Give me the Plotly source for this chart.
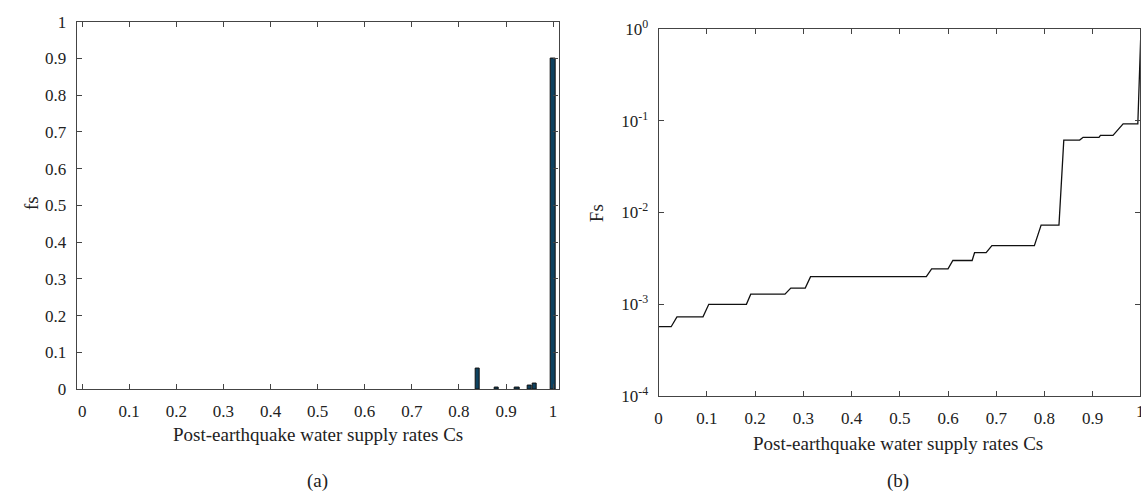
import plotly.graph_objects as go

# ---- data ----
bar_cs = [0.84, 0.88, 0.924, 0.95, 0.961, 1.0]
bar_fs = [0.055, 0.005, 0.004, 0.009, 0.015, 0.9]

cdf_cs = [0.0, 0.026, 0.038, 0.092, 0.104, 0.182, 0.191, 0.262, 0.274, 0.304, 0.315,
          0.555, 0.566, 0.600, 0.610, 0.650, 0.655, 0.679, 0.691, 0.779, 0.793, 0.830,
          0.840, 0.873, 0.880, 0.913, 0.916, 0.942, 0.963, 0.9935, 1.0]
cdf_fs = [5.7e-4, 5.7e-4, 7.3e-4, 7.3e-4, 1.0e-3, 1.0e-3, 1.29e-3, 1.29e-3, 1.5e-3, 1.5e-3, 2.0e-3,
          2.0e-3, 2.43e-3, 2.43e-3, 3.0e-3, 3.0e-3, 3.65e-3, 3.65e-3, 4.35e-3, 4.35e-3, 7.3e-3, 7.3e-3,
          0.0615, 0.0615, 0.066, 0.066, 0.0693, 0.0693, 0.0925, 0.0925, 1.0]

x_ticks = [0, 0.1, 0.2, 0.3, 0.4, 0.5, 0.6, 0.7, 0.8, 0.9, 1]
x_ticktext = ["0", "0.1", "0.2", "0.3", "0.4", "0.5", "0.6", "0.7", "0.8", "0.9", "1"]
y_ticks_a = [0, 0.1, 0.2, 0.3, 0.4, 0.5, 0.6, 0.7, 0.8, 0.9, 1]
y_ticktext_a = ["0", "0.1", "0.2", "0.3", "0.4", "0.5", "0.6", "0.7", "0.8", "0.9", "1"]
y_ticks_b = [1e-4, 1e-3, 1e-2, 1e-1, 1]
y_ticktext_b = ["10<sup>-4</sup>", "10<sup>-3</sup>", "10<sup>-2</sup>", "10<sup>-1</sup>", "10<sup>0</sup>"]

xtitle = "Post-earthquake water supply rates Cs"

W, H = 1141, 502
FONT = "Liberation Serif"
AX = "#444444"
TXT = "#222222"

fig = go.Figure()
fig.add_trace(go.Bar(x=bar_cs, y=bar_fs, width=0.01, xaxis="x", yaxis="y",
                     marker=dict(color="#0e4260", line=dict(color="#111111", width=1)),
                     showlegend=False))
fig.add_trace(go.Scatter(x=cdf_cs, y=cdf_fs, mode="lines", xaxis="x2", yaxis="y2",
                         line=dict(color="#111111", width=1.3), showlegend=False))

common = dict(showline=True, linecolor=AX, linewidth=1.2, mirror="ticks", ticks="inside",
              ticklen=5, tickcolor=AX, tickwidth=1, showgrid=False, zeroline=False,
              ticklabelstandoff=6,
              tickfont=dict(family=FONT, size=17, color=TXT))

fig.update_layout(
    width=W, height=H, margin=dict(l=0, r=0, t=0, b=0),
    paper_bgcolor="white", plot_bgcolor="white",
    font=dict(family=FONT, size=17, color=TXT),
    bargap=0,
    xaxis=dict(domain=[73 / W, 557 / W], range=[-0.0116, 1.0116], anchor="y",
               tickvals=x_ticks, ticktext=x_ticktext, **common),
    yaxis=dict(domain=[1 - 394.5 / H, 1 - 10 / H], range=[0, 1], anchor="x",
               tickvals=y_ticks_a, ticktext=y_ticktext_a, **common),
    xaxis2=dict(domain=[657.5 / W, 1.0], range=[0, 0.998], anchor="y2",
                tickvals=x_ticks[:-1], ticktext=x_ticktext[:-1], **common),
    yaxis2=dict(domain=[1 - 401.7 / H, 1 - 17.7 / H], type="log", range=[-4, 0], anchor="x2",
                tickvals=y_ticks_b, ticktext=y_ticktext_b, **common),
)

def ann(text, x, y, angle=0, size=19, xanchor="center"):
    fig.add_annotation(text=text, x=x / W, y=1 - y / H, xref="paper", yref="paper",
                       showarrow=False, textangle=angle, xanchor=xanchor, yanchor="middle",
                       font=dict(family=FONT, size=size, color=TXT))

ann(xtitle, 315, 442)
ann(xtitle, 898, 451)
ann("fs", 27, 200, angle=-90)
ann("Fs", 595, 210, angle=-90)
ann("(a)", 315, 491)
ann("(b)", 898, 491)
# partially visible "1" tick label at the cropped right edge of panel (b)
ann("1", 1135, 418, size=17, xanchor="left")

fig.write_html("out.html")
